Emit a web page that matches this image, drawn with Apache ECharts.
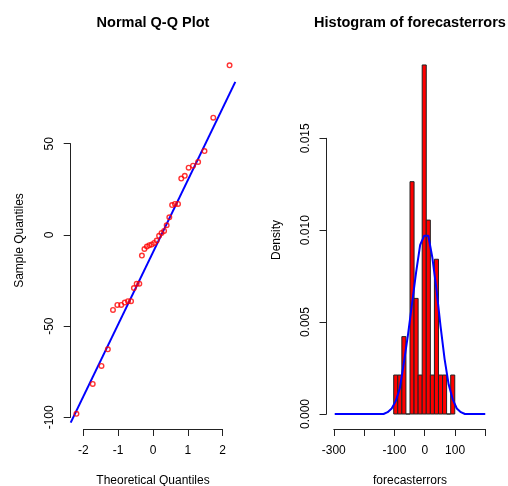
<!DOCTYPE html>
<html>
<head>
<meta charset="utf-8">
<script src="https://cdn.jsdelivr.net/npm/echarts@6/dist/echarts.min.js"></script>
<style>
html,body{margin:0;padding:0;background:#fff;}
#chart{width:508px;height:486px;}
</style>
</head>
<body>
<div id="chart"></div>
<script>
// ---------------- DATA ----------------
const qqTheoretical = [-2.200,-1.732,-1.480,-1.297,-1.150,-1.024,-0.913,-0.812,-0.719,-0.631,-0.549,-0.469,-0.393,-0.319,-0.246,-0.175,-0.105,-0.035,0.035,0.105,0.175,0.246,0.319,0.393,0.469,0.549,0.631,0.719,0.812,0.913,1.024,1.150,1.297,1.480,1.732,2.200];
const qqSample = [-98.1,-81.7,-71.8,-62.7,-41.1,-38.4,-38.4,-37.1,-36.3,-36.3,-29.1,-26.7,-26.7,-11.3,-7.7,-6.4,-5.6,-5.2,-4.4,-3.1,-0.5,1.1,2.2,5.3,9.7,16.4,17.0,17.0,30.9,32.4,36.9,38.0,40.0,46.0,64.3,93.0];
const qqLineIntercept = -9.5;
const qqLineSlope = 39.5;
const qqXTicks = [-2,-1,0,1,2];
const qqYTicks = [-100,-50,0,50];

const histBinEdges = [-102.3,-88.9,-75.5,-62.0,-48.6,-35.2,-21.8,-8.4,5.0,18.5,31.9,45.3,58.7,72.1,85.6,99.0];
const histDensity = [0.00212,0.00212,0.00421,0,0.01264,0.00629,0.00212,0.01899,0.01055,0.00212,0.00842,0.00212,0.00212,0,0.00212];
const curveMids = [-296.9,-283.5,-270.1,-256.6,-243.2,-229.8,-216.4,-203.0,-189.5,-176.1,-162.7,-149.3,-135.9,-122.4,-109.0,-95.6,-82.2,-68.8,-55.3,-41.9,-28.5,-15.1,-1.7,11.8,25.2,38.6,52.0,65.4,78.9,92.3,105.7,119.1,132.5,146.0,159.4,172.8,186.2,199.6];
const curveDensity = [0,0,0,0,0,0,0,0,0,0,0,0,0,0.0001,0.0003,0.0007,0.0014,0.0028,0.0043,0.0060,0.0077,0.0092,0.0097,0.0097,0.0085,0.0068,0.0048,0.0030,0.0016,0.0008,0.0003,0.0001,0,0,0,0,0,0];
const histXTicks = [-300,-200,-100,0,100,200];
const histXLabels = ['-300','','-100','0','100',''];
const histYTicks = [0,0.005,0.010,0.015];

// ---------------- LAYOUT ----------------
const FONT = '"Liberation Sans", Arial, sans-serif';
const AX = '#222';
const L = {left:70.7, top:52, width:164.6, height:377, xMin:-2.365, xMax:2.365, yMin:-106.4, yMax:100.3};
const R = {left:326.5, top:51, width:167, height:378, xMin:-324, xMax:226.8, yMin:-0.000816, yMax:0.01975};

function xPix(g, v){ return g.left + (v - g.xMin) / (g.xMax - g.xMin) * g.width; }
function yPix(g, v){ return g.top + (g.yMax - v) / (g.yMax - g.yMin) * g.height; }

function axisGrids(g, xt, yt){
  const bottom = g.top + g.height;
  const x0 = xPix(g, xt[0]), x1 = xPix(g, xt[xt.length-1]);
  const y0 = yPix(g, yt[yt.length-1]), y1 = yPix(g, yt[0]);
  return [
    {left:g.left, top:g.top, width:g.width, height:g.height},
    {left:x0, top:bottom-1, width:x1-x0, height:1},
    {left:g.left, top:y0, width:1, height:y1-y0}
  ];
}
const grids = axisGrids(L, qqXTicks, qqYTicks).concat(axisGrids(R, histXTicks, histYTicks));

function shownX(gi, ticks, fmt){
  return {type:'value', gridIndex:gi, min:ticks[0], max:ticks[ticks.length-1],
    interval:ticks[1]-ticks[0], position:'bottom',
    axisLine:{show:true, lineStyle:{color:AX, width:1}},
    axisTick:{show:true, length:7, lineStyle:{color:AX, width:1}},
    axisLabel:{show:true, margin:16, color:'#000', fontSize:12, fontFamily:FONT, formatter:fmt},
    splitLine:{show:false}};
}
function shownY(gi, ticks, fmt){
  return {type:'value', gridIndex:gi, min:ticks[0], max:ticks[ticks.length-1],
    interval:ticks[1]-ticks[0], position:'left',
    axisLine:{show:true, lineStyle:{color:AX, width:1}},
    axisTick:{show:true, length:7, lineStyle:{color:AX, width:1}},
    axisLabel:{show:true, margin:15, rotate:90, align:'center', verticalAlign:'bottom',
      color:'#000', fontSize:12, fontFamily:FONT, formatter:fmt},
    splitLine:{show:false}};
}
function hiddenAxis(gi, min, max){ return {type:'value', gridIndex:gi, min:min, max:max, show:false}; }

const xAxes = [
  hiddenAxis(0, L.xMin, L.xMax),
  shownX(1, qqXTicks, v => String(v)),
  hiddenAxis(2, 0, 1),
  hiddenAxis(3, R.xMin, R.xMax),
  shownX(4, histXTicks, v => { const i = histXTicks.indexOf(v); return i >= 0 ? histXLabels[i] : ''; }),
  hiddenAxis(5, 0, 1)
];
const yAxes = [
  hiddenAxis(0, L.yMin, L.yMax),
  hiddenAxis(1, 0, 1),
  shownY(2, qqYTicks, v => String(v)),
  hiddenAxis(3, R.yMin, R.yMax),
  hiddenAxis(4, 0, 1),
  shownY(5, histYTicks, v => v.toFixed(3))
];

const qqPoints = qqTheoretical.map((x, i) => [x, qqSample[i]]);
const qqLine = [[L.xMin, qqLineIntercept + qqLineSlope * L.xMin], [L.xMax, qqLineIntercept + qqLineSlope * L.xMax]];
const histData = histDensity.map((d, i) => [histBinEdges[i], histBinEdges[i+1], d]);
const curveData = curveMids.map((m, i) => [m, curveDensity[i]]);

function txt(x, y, text, opts){
  opts = opts || {};
  return {type:'text', x:x, y:y, rotation:opts.rot || 0, silent:true, z:100,
    style:{text:text, align:'center', verticalAlign:'middle', fill:'#000',
      font:(opts.bold ? 'bold ' : '') + (opts.size || 12) + 'px ' + FONT}};
}

const option = {
  animation:false,
  backgroundColor:'#fff',
  grid:grids,
  xAxis:xAxes,
  yAxis:yAxes,
  graphic:[
    txt(L.left + L.width/2, 22.5, 'Normal Q-Q Plot', {bold:true, size:14.5}),
    txt(R.left + R.width/2, 22.5, 'Histogram of forecasterrors', {bold:true, size:14.5}),
    txt(L.left + L.width/2, 481, 'Theoretical Quantiles'),
    txt(R.left + R.width/2, 481, 'forecasterrors'),
    txt(20, L.top + L.height/2, 'Sample Quantiles', {rot:Math.PI/2}),
    txt(277, R.top + R.height/2, 'Density', {rot:Math.PI/2})
  ],
  series:[
    {type:'line', xAxisIndex:0, yAxisIndex:0, data:qqLine, showSymbol:false, silent:true,
      lineStyle:{color:'#0000FF', width:2}, z:2},
    {type:'scatter', xAxisIndex:0, yAxisIndex:0, data:qqPoints, symbol:'circle', symbolSize:4.6,
      itemStyle:{color:'rgba(255,0,0,0)', borderColor:'#FF0000', borderWidth:1.4}, z:3, silent:true},
    {type:'custom', xAxisIndex:3, yAxisIndex:3, data:histData, silent:true, z:2,
      renderItem:function(params, api){
        const p0 = api.coord([api.value(0), 0]);
        const p1 = api.coord([api.value(1), api.value(2)]);
        return {type:'rect', shape:{x:p0[0], y:p1[1], width:p1[0]-p0[0], height:p0[1]-p1[1]},
          style:{fill:'#FF0000', stroke:'#222', lineWidth:1}};
      }},
    {type:'line', xAxisIndex:3, yAxisIndex:3, data:curveData, showSymbol:false, silent:true,
      lineStyle:{color:'#0000FF', width:2}, z:3}
  ]
};
const chart = echarts.init(document.getElementById('chart'), null, {renderer:'canvas'});
chart.setOption(option);
</script>
</body>
</html>
